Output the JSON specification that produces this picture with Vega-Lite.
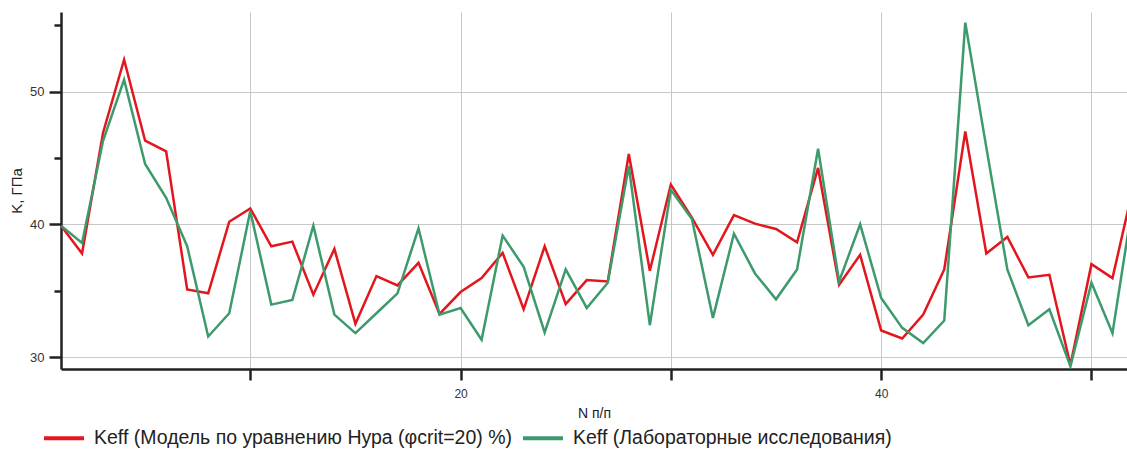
{
  "$schema": "https://vega.github.io/schema/vega-lite/v6.json",
  "width": 1066,
  "height": 357,
  "autosize": "none",
  "padding": {"left": 61, "top": 12, "right": 0, "bottom": 83},
  "background": "white",
  "config": {
    "font": "Liberation Sans",
    "view": {"stroke": null}
  },
  "datasets": {
    "red": [
      {"n":1,"K":39.9},{"n":2,"K":37.8},{"n":3,"K":46.9},{"n":4,"K":52.4},{"n":5,"K":46.3},
      {"n":6,"K":45.5},{"n":7,"K":35.1},{"n":8,"K":34.8},{"n":9,"K":40.2},{"n":10,"K":41.2},
      {"n":11,"K":38.35},{"n":12,"K":38.7},{"n":13,"K":34.7},{"n":14,"K":38.15},{"n":15,"K":32.5},
      {"n":16,"K":36.1},{"n":17,"K":35.4},{"n":18,"K":37.1},{"n":19,"K":33.25},{"n":20,"K":34.9},
      {"n":21,"K":35.95},{"n":22,"K":37.85},{"n":23,"K":33.6},{"n":24,"K":38.35},{"n":25,"K":34.0},
      {"n":26,"K":35.8},{"n":27,"K":35.7},{"n":28,"K":45.3},{"n":29,"K":36.5},{"n":30,"K":43.0},
      {"n":31,"K":40.5},{"n":32,"K":37.7},{"n":33,"K":40.7},{"n":34,"K":40.05},{"n":35,"K":39.65},
      {"n":36,"K":38.65},{"n":37,"K":44.25},{"n":38,"K":35.45},{"n":39,"K":37.7},{"n":40,"K":32.0},
      {"n":41,"K":31.4},{"n":42,"K":33.2},{"n":43,"K":36.6},{"n":44,"K":47.0},{"n":45,"K":37.8},
      {"n":46,"K":39.05},{"n":47,"K":36.0},{"n":48,"K":36.2},{"n":49,"K":29.4},{"n":50,"K":37.0},
      {"n":51,"K":35.95},{"n":52,"K":42.9}
    ],
    "green": [
      {"n":1,"K":39.9},{"n":2,"K":38.6},{"n":3,"K":46.3},{"n":4,"K":50.9},{"n":5,"K":44.55},
      {"n":6,"K":42.0},{"n":7,"K":38.35},{"n":8,"K":31.55},{"n":9,"K":33.3},{"n":10,"K":41.0},
      {"n":11,"K":33.95},{"n":12,"K":34.3},{"n":13,"K":39.9},{"n":14,"K":33.2},{"n":15,"K":31.8},
      {"n":16,"K":33.3},{"n":17,"K":34.8},{"n":18,"K":39.7},{"n":19,"K":33.2},{"n":20,"K":33.7},
      {"n":21,"K":31.3},{"n":22,"K":39.15},{"n":23,"K":36.8},{"n":24,"K":31.85},{"n":25,"K":36.6},
      {"n":26,"K":33.7},{"n":27,"K":35.6},{"n":28,"K":44.4},{"n":29,"K":32.4},{"n":30,"K":42.6},
      {"n":31,"K":40.4},{"n":32,"K":32.95},{"n":33,"K":39.3},{"n":34,"K":36.3},{"n":35,"K":34.35},
      {"n":36,"K":36.6},{"n":37,"K":45.7},{"n":38,"K":35.7},{"n":39,"K":40.0},{"n":40,"K":34.45},
      {"n":41,"K":32.2},{"n":42,"K":31.05},{"n":43,"K":32.75},{"n":44,"K":55.2},{"n":45,"K":45.8},
      {"n":46,"K":36.6},{"n":47,"K":32.4},{"n":48,"K":33.6},{"n":49,"K":29.3},{"n":50,"K":35.6},
      {"n":51,"K":31.8},{"n":52,"K":42.0}
    ]
  },
  "layer": [
    {
      "data": {"name": "red"},
      "transform": [{"calculate": "'Keff (Модель по уравнению Нура (φcrit=20) %)'", "as": "series"}],
      "mark": {"type": "line", "clip": true, "strokeWidth": 2.5, "strokeJoin": "miter"},
      "encoding": {
        "x": {
          "field": "n", "type": "quantitative",
          "scale": {"domain": [1, 51.69], "nice": false, "zero": false},
          "axis": {
            "title": "N п/п", "titleFontSize": 14, "titleFontWeight": "normal", "titleColor": "#222",
            "titlePadding": 7,
            "values": [10, 20, 30, 40, 50],
            "labelExpr": "datum.value % 20 === 0 ? datum.label : ''",
            "labelFontSize": 12, "labelColor": "#333", "labelPadding": 8,
            "domainColor": "#222", "domainWidth": 2.5,
            "tickColor": "#222", "tickWidth": 2.5, "tickSize": 11,
            "grid": true, "gridColor": "#c8c8c8", "gridWidth": 1
          }
        },
        "y": {
          "field": "K", "type": "quantitative",
          "scale": {"domain": [29.1, 56], "nice": false, "zero": false},
          "axis": {
            "title": "K, ГПа", "titleFontSize": 15, "titleFontWeight": "normal", "titleColor": "#222",
            "titlePadding": 5,
            "values": [30, 35, 40, 45, 50, 55],
            "labelExpr": "datum.value % 10 === 0 ? datum.label : ''",
            "labelFontSize": 13, "labelColor": "#333", "labelPadding": 5,
            "domainColor": "#222", "domainWidth": 2.5,
            "tickColor": "#222", "tickWidth": 2.5,
            "tickSize": {"condition": {"test": "datum.value % 10 === 0", "value": 12}, "value": 7},
            "grid": true, "gridColor": "#c8c8c8", "gridWidth": 1,
            "gridOpacity": {"condition": {"test": "datum.value % 10 === 0", "value": 1}, "value": 0}
          }
        },
        "color": {
          "field": "series", "type": "nominal",
          "scale": {
            "domain": ["Keff (Модель по уравнению Нура (φcrit=20) %)", "Keff (Лабораторные исследования)"],
            "range": ["#e3161d", "#3d9a6c"]
          },
          "legend": {
            "title": null, "orient": "none", "direction": "horizontal", "columns": 2,
            "legendX": -19, "legendY": 404, "padding": 0,
            "symbolType": "stroke", "symbolSize": 1600, "symbolStrokeWidth": 4,
            "labelFontSize": 19.5, "labelColor": "#222", "labelOffset": 8, "labelLimit": 600,
            "columnPadding": 2
          }
        }
      }
    },
    {
      "data": {"name": "green"},
      "transform": [{"calculate": "'Keff (Лабораторные исследования)'", "as": "series"}],
      "mark": {"type": "line", "clip": true, "strokeWidth": 2.5, "strokeJoin": "miter"},
      "encoding": {
        "x": {"field": "n", "type": "quantitative"},
        "y": {"field": "K", "type": "quantitative"},
        "color": {"field": "series", "type": "nominal"}
      }
    }
  ]
}
